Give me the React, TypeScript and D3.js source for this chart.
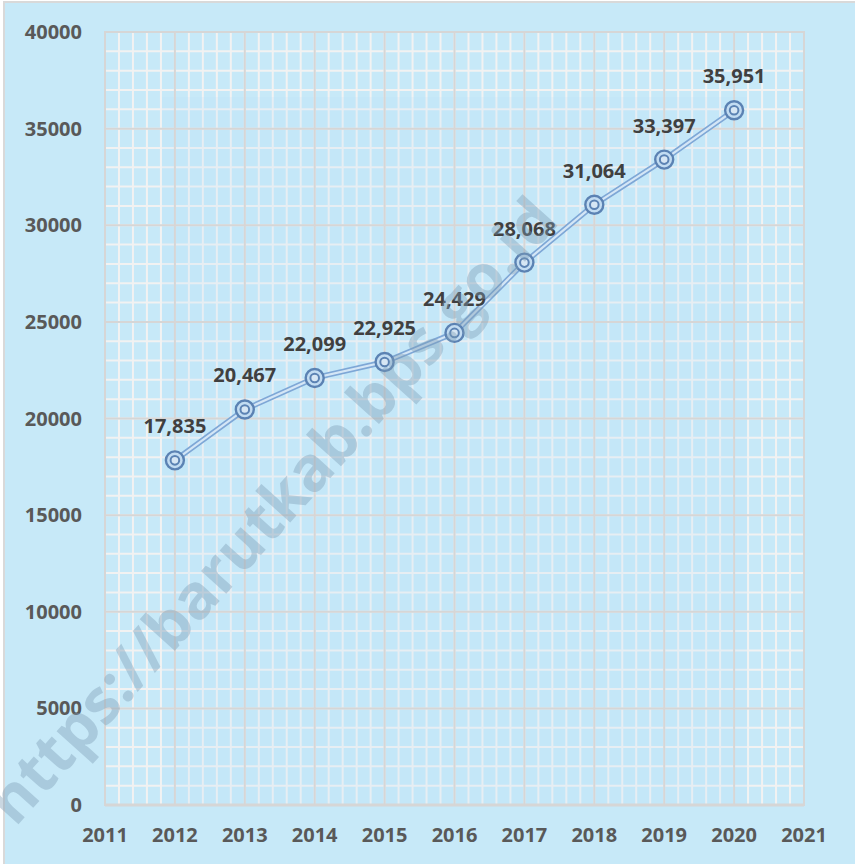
import React from "react";
import * as d3 from "d3";

const years = [2012, 2013, 2014, 2015, 2016, 2017, 2018, 2019, 2020];
const values = [17835, 20467, 22099, 22925, 24429, 28068, 31064, 33397, 35951];
const xTickYears = [2011, 2012, 2013, 2014, 2015, 2016, 2017, 2018, 2019, 2020, 2021];
const yTicks = [0, 5000, 10000, 15000, 20000, 25000, 30000, 35000, 40000];

const W = 855;
const H = 864;
const left = 105;
const right = 804;
const top = 32;
const bottom = 805;

export default function App() {
  const x = d3.scaleLinear().domain([2011, 2021]).range([left, right]);
  const y = d3.scaleLinear().domain([0, 40000]).range([bottom, top]);

  const minorX = d3.range(2011, 2021.001, 0.2);
  const minorY = d3.range(0, 40001, 1000);

  const line = d3
    .line<number>()
    .x((_, i) => x(years[i]))
    .y((d) => y(d));
  const path = line(values) || "";

  const fmt = d3.format(",");
  const font = "'Open Sans', 'DejaVu Sans', sans-serif";

  return (
    <svg
      width={W}
      height={H}
      style={{ position: "absolute", left: 0, top: 0 }}
      xmlns="http://www.w3.org/2000/svg"
    >
      <rect x={0} y={0} width={W} height={H} fill="#ffffff" />
      <rect x={4} y={2} width={W + 10} height={H + 10} fill="#c7e9f8" stroke="#d9d9d9" strokeWidth={2} />
      {/* minor grid */}
      {minorX.map((v, i) => (
        <line key={"mx" + i} x1={x(v)} x2={x(v)} y1={top} y2={bottom} stroke="#f2f2f2" strokeWidth={2} />
      ))}
      {minorY.map((v, i) => (
        <line key={"my" + i} x1={left} x2={right} y1={y(v)} y2={y(v)} stroke="#f2f2f2" strokeWidth={2} />
      ))}
      {/* faint overlay box */}
      <rect x={162} y={97} width={585} height={708} fill="#b8dcf8" opacity={0.18} />
      {/* major grid */}
      {xTickYears.map((v) => (
        <line key={"Mx" + v} x1={x(v)} x2={x(v)} y1={top} y2={bottom} stroke="#d6d6d6" strokeWidth={2} />
      ))}
      {yTicks.map((v) => (
        <line key={"My" + v} x1={left} x2={right} y1={y(v)} y2={y(v)} stroke="#d6d6d6" strokeWidth={2} />
      ))}
      <rect x={left} y={top} width={right - left} height={bottom - top} fill="none" stroke="#d6d6d6" strokeWidth={2} />
      <line x1={left} x2={right} y1={bottom} y2={bottom} stroke="#d6d6d6" strokeWidth={3} />

      {/* y tick labels */}
      {yTicks.map((v) => (
        <text
          key={"yl" + v}
          x={82}
          y={y(v) + 7}
          textAnchor="end"
          fontFamily={font}
          fontWeight={700}
          fontSize={20}
          fill="#595959"
        >
          {v}
        </text>
      ))}
      {/* x tick labels */}
      {xTickYears.map((v) => (
        <text
          key={"xl" + v}
          x={x(v)}
          y={842}
          textAnchor="middle"
          fontFamily={font}
          fontWeight={700}
          fontSize={20}
          fill="#595959"
        >
          {v}
        </text>
      ))}

      {/* double line */}
      <path d={path} fill="none" stroke="#7ea7d6" strokeWidth={5.5} strokeLinejoin="round" />
      <path d={path} fill="none" stroke="#d4e6f6" strokeWidth={2.2} strokeLinejoin="round" />

      {/* markers */}
      {values.map((v, i) => (
        <g key={"m" + i}>
          <circle cx={x(years[i])} cy={y(v)} r={9} fill="#c2dcf2" stroke="#5b82b3" strokeWidth={2.4} />
          <circle cx={x(years[i])} cy={y(v)} r={4.3} fill="#d6e6f4" stroke="#5b82b3" strokeWidth={2} />
        </g>
      ))}

      {/* data labels */}
      {values.map((v, i) => (
        <text
          key={"dl" + i}
          x={x(years[i])}
          y={y(v) - 27}
          textAnchor="middle"
          fontFamily={font}
          fontWeight={700}
          fontSize={20}
          fill="#404040"
        >
          {fmt(v)}
        </text>
      ))}

      {/* watermark */}
      <text
        x={0}
        y={0}
        transform="translate(288,525) rotate(-48)"
        textAnchor="middle"
        fontFamily={font}
        fontWeight={700}
        fontSize={62}
        fill="#7d9db5"
        opacity={0.4}
      >
        https://barutkab.bps.go.id
      </text>
    </svg>
  );
}
